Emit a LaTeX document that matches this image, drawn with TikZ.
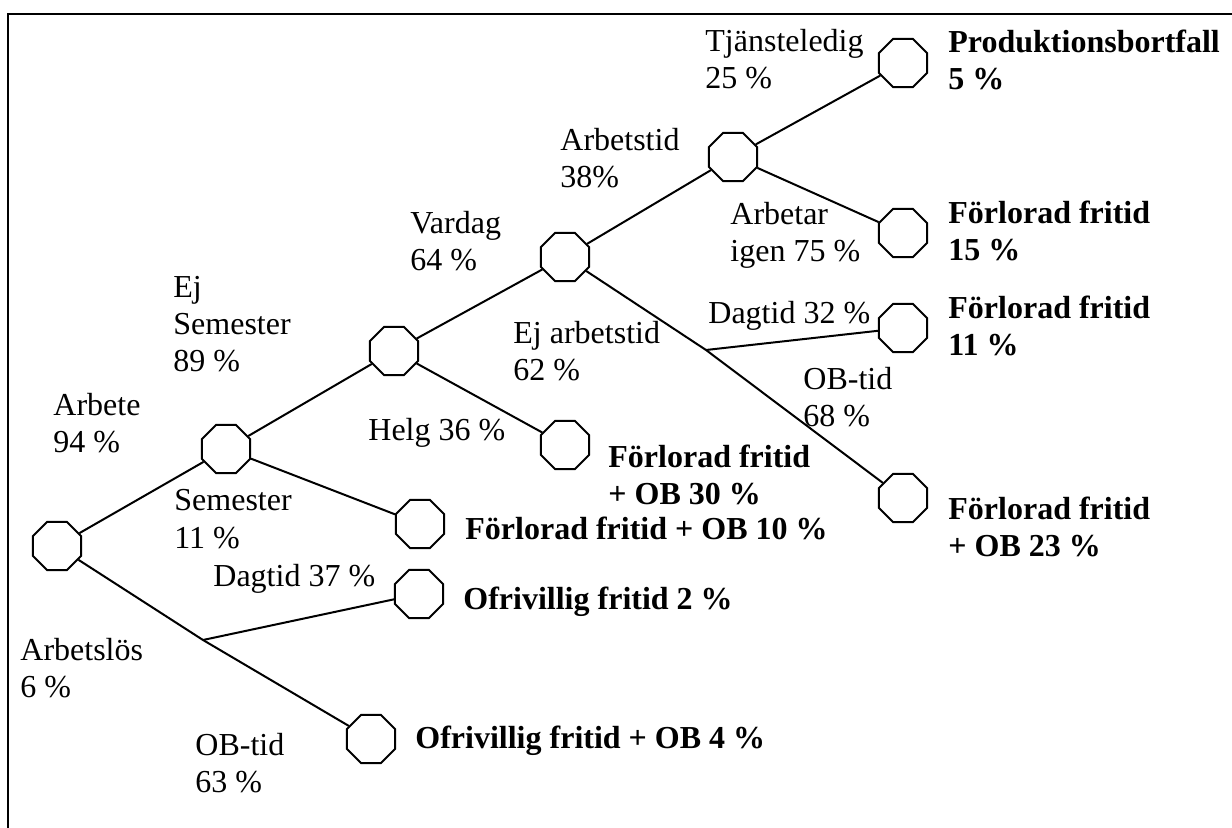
\documentclass[tikz,border=0pt]{standalone}
\usepackage{fontspec}
\setmainfont{Liberation Serif}
\usetikzlibrary{shapes.geometric}
\tikzstyle{vertex} = [draw, line width=1pt, regular polygon, regular polygon sides=8, minimum size=26pt, inner sep=0pt, fill=white]
\tikzstyle{edge}   = [line width=1pt]
\tikzstyle{prob}   = [anchor=base west, align=left, inner sep=0pt, font=\fontsize{16}{18.5}\selectfont]
\tikzstyle{result} = [prob, font=\fontsize{16}{18.5}\selectfont\bfseries]
\begin{document}
\begin{tikzpicture}[x=0.5pt,y=-0.5pt]
\useasboundingbox (0,0) rectangle (1232,828);

% frame
\draw[edge] (8,828) -- (8,14) -- (1232,14);

\node[vertex] (R)   at (57,546) {};
\node[vertex] (A)   at (226,449) {};
\node[vertex] (B)   at (394,351) {};
\node[vertex] (C)   at (565,257) {};
\node[vertex] (D)   at (733,157) {};

\node[vertex] (L5)  at (903,63) {};
\node[vertex] (L15) at (903,233) {};
\node[vertex] (L11) at (903,328) {};
\node[vertex] (L23) at (903,498) {};
\node[vertex] (L30) at (565,445) {};
\node[vertex] (L10) at (420,524) {};
\node[vertex] (O2)  at (419,594) {};
\node[vertex] (O4)  at (371,739) {};

\coordinate (J1) at (706,350);
\coordinate (J2) at (203,640);

\draw[edge] (R) -- (A);
\draw[edge] (R) -- (J2) -- (O4);
\draw[edge] (J2) -- (O2);
\draw[edge] (A) -- (B);
\draw[edge] (A) -- (L10);
\draw[edge] (B) -- (C);
\draw[edge] (B) -- (L30);
\draw[edge] (C) -- (D);
\draw[edge] (C) -- (J1) -- (L23);
\draw[edge] (J1) -- (L11);
\draw[edge] (D) -- (L5);
\draw[edge] (D) -- (L15);

% probabilities (anchored at the last line)
\node[prob] (pArbete) at (53,453) {Arbete\\94 \%};
\node[prob] (pEjSem)  at (173,372) {Ej\\Semester\\89 \%};
\node[prob] (pSem)    at (174,548) {Semester\\11 \%};
\node[prob] (pLos)    at (20,697) {Arbetslös\\6 \%};
\node[prob] (pDag37)  at (213,587) {Dagtid 37 \%};
\node[prob] (pOB63)   at (195,792) {OB-tid\\63 \%};
\node[prob] (pHelg)   at (368,441) {Helg 36 \%};
\node[prob] (pVardag) at (410,271) {Vardag\\64 \%};
\node[prob] (pEjArb)  at (513,381) {Ej arbetstid\\62 \%};
\node[prob] (pArbtid) at (560,188) {Arbetstid\\38\%};
\node[prob] (pTjl)    at (705,89) {Tjänsteledig\\25 \%};
\node[prob] (pIgen)   at (730,262) {Arbetar\\igen 75 \%};
\node[prob] (pDag32)  at (708,324) {Dagtid 32 \%};
\node[prob] (pOB68)   at (803,427) {OB-tid\\68 \%};

% outcomes
\node[result] (r5)  at (948,90) {Produktionsbortfall\\5 \%};
\node[result] (r15) at (948,261) {Förlorad fritid\\15 \%};
\node[result] (r11) at (948,356) {Förlorad fritid\\11 \%};
\node[result] (r30) at (608,505) {Förlorad fritid\\+ OB 30 \%};
\node[result] (r10) at (465,539) {Förlorad fritid + OB 10 \%};
\node[result] (r23) at (948,557) {Förlorad fritid\\+ OB 23 \%};
\node[result] (r2)  at (463,610) {Ofrivillig fritid 2 \%};
\node[result] (r4)  at (415,748) {Ofrivillig fritid + OB 4 \%};

\end{tikzpicture}
\end{document}
